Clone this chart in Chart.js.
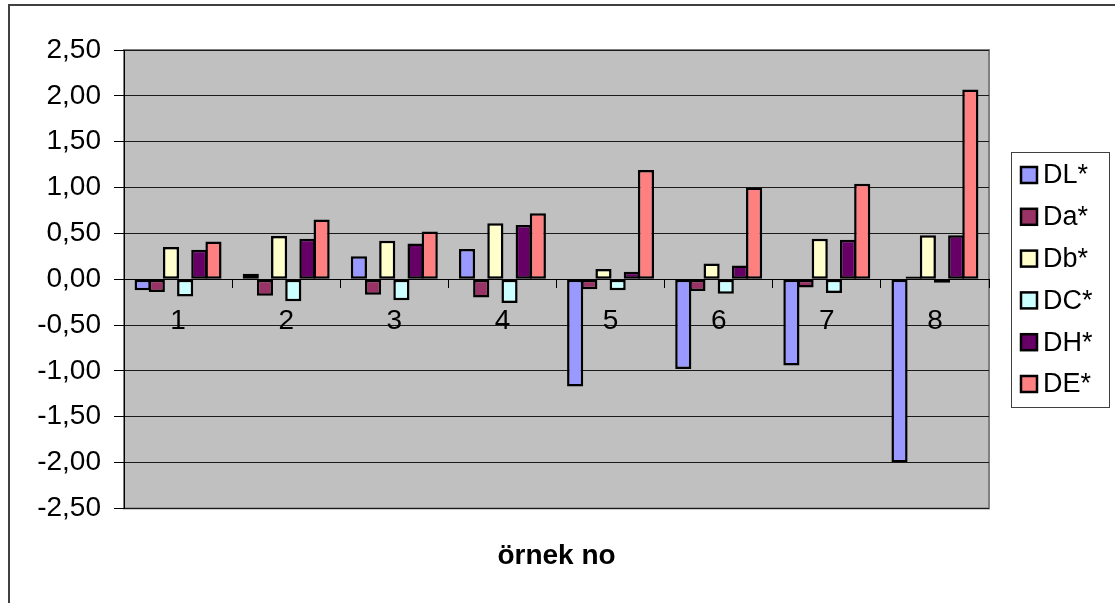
<!DOCTYPE html>
<html>
<head>
<meta charset="utf-8">
<title>örnek no</title>
<script src="https://cdn.jsdelivr.net/npm/chart.js@4.4.1/dist/chart.umd.min.js"></script>
<style>
  html, body { margin: 0; padding: 0; background: #ffffff; }
  #wrap { width: 1115px; height: 603px; position: relative; }
  canvas { display: block; }
</style>
</head>
<body>
<div id="wrap"><canvas id="chart" width="1115" height="603"></canvas></div>
<script>
// Sample numbers (categories) and colour-difference components per sample
const categories = ['1', '2', '3', '4', '5', '6', '7', '8'];
const seriesNames = ['DL*', 'Da*', 'Db*', 'DC*', 'DH*', 'DE*'];
const dLValues = [-0.12, 0.06, 0.25, 0.33, -1.17, -0.98, -0.94, -2.00];
const daValues = [-0.14, -0.18, -0.17, -0.20, -0.11, -0.13, -0.09, 0.03];
const dbValues = [0.35, 0.47, 0.42, 0.61, 0.11, 0.17, 0.44, 0.48];
const dCValues = [-0.19, -0.24, -0.23, -0.26, -0.12, -0.16, -0.15, -0.04];
const dHValues = [0.32, 0.44, 0.39, 0.59, 0.08, 0.15, 0.43, 0.48];
const dEValues = [0.41, 0.65, 0.52, 0.72, 1.19, 1.00, 1.04, 2.07];
const yTickLabels = ['-2,50', '-2,00', '-1,50', '-1,00', '-0,50', '0,00', '0,50', '1,00', '1,50', '2,00', '2,50'];
const xAxisTitle = 'örnek no';

const seriesValues = [dLValues, daValues, dbValues, dCValues, dHValues, dEValues];
const seriesColors = ['#9999FF', '#993366', '#FFFFCC', '#CCFFFF', '#660066', '#FF8080'];

const FONT = "'Liberation Sans', Arial, Helvetica, sans-serif";
const Y_MIN = -2.5, Y_MAX = 2.5, Y_STEP = 0.5;

// Gray plot area with its frame, plus the outer chart border
const plotBackground = {
  id: 'plotBackground',
  beforeDraw(chart) {
    const { ctx, chartArea: a } = chart;
    ctx.save();
    ctx.fillStyle = '#FFFFFF';
    ctx.fillRect(0, 0, chart.width, chart.height);
    ctx.fillStyle = '#C0C0C0';
    ctx.fillRect(a.left, a.top, a.right - a.left, a.bottom - a.top);
    ctx.strokeStyle = '#808080';
    ctx.lineWidth = 2;
    ctx.strokeRect(a.left, a.top, a.right - a.left, a.bottom - a.top);
    ctx.strokeStyle = '#404040';
    ctx.lineWidth = 2;
    ctx.strokeRect(9, 5, chart.width + 20, chart.height + 20);
    ctx.restore();
  }
};

// Boxed legend on the right, listing each dataset with its fill colour
const boxedLegend = {
  id: 'boxedLegend',
  afterDraw(chart) {
    const { ctx } = chart;
    const datasets = chart.data.datasets;
    const boxLeft = 1011, boxTop = 152, boxWidth = 98, boxHeight = 255;
    const firstRow = 175, rowGap = 41.8;
    ctx.save();
    ctx.fillStyle = '#FFFFFF';
    ctx.fillRect(boxLeft, boxTop, boxWidth, boxHeight);
    ctx.strokeStyle = '#404040';
    ctx.lineWidth = 1;
    ctx.strokeRect(boxLeft + 0.5, boxTop + 0.5, boxWidth, boxHeight);
    ctx.font = '27px ' + FONT;
    ctx.textAlign = 'left';
    ctx.textBaseline = 'middle';
    datasets.forEach((ds, i) => {
      const cy = firstRow + i * rowGap;
      ctx.fillStyle = ds.backgroundColor;
      ctx.fillRect(1021, cy - 8, 16, 16);
      ctx.strokeStyle = '#000000';
      ctx.lineWidth = 2.5;
      ctx.strokeRect(1021, cy - 8, 16, 16);
      ctx.fillStyle = '#000000';
      ctx.fillText(ds.label, 1043, cy + 1);
    });
    ctx.restore();
  }
};

const datasets = seriesNames.map((name, i) => ({
  label: name,
  data: seriesValues[i],
  backgroundColor: seriesColors[i],
  borderColor: '#000000',
  borderWidth: 2.5,
  borderSkipped: false
}));

new Chart(document.getElementById('chart').getContext('2d'), {
  type: 'bar',
  data: { labels: categories, datasets },
  options: {
    responsive: false,
    animation: false,
    devicePixelRatio: 1,
    layout: { padding: { left: 0, top: 50, right: 126, bottom: 30 } },
    datasets: {
      bar: { categoryPercentage: 0.786, barPercentage: 1.141 }
    },
    scales: {
      x: {
        position: { y: 0 },
        grid: {
          offset: true,
          drawOnChartArea: false,
          drawTicks: true,
          tickLength: 8,
          color: '#000000',
          lineWidth: 1
        },
        border: { display: true, color: '#000000', width: 1 },
        ticks: {
          color: '#000000',
          font: { family: FONT, size: 28 },
          padding: 17,
          maxRotation: 0,
          autoSkip: false
        }
      },
      y: {
        min: Y_MIN,
        max: Y_MAX,
        afterFit(scale) { scale.width = 124; },
        grid: {
          color: '#1a1a1a',
          lineWidth: 1,
          drawTicks: true,
          tickLength: 10,
          tickColor: '#000000'
        },
        border: { display: true, color: '#000000', width: 1 },
        ticks: {
          stepSize: Y_STEP,
          autoSkip: false,
          color: '#000000',
          font: { family: FONT, size: 28 },
          padding: 13,
          callback: (value) => yTickLabels[Math.round((value - Y_MIN) / Y_STEP)]
        }
      }
    },
    plugins: {
      legend: { display: false },
      tooltip: { enabled: false },
      title: {
        display: true,
        fullSize: false,
        position: 'bottom',
        text: xAxisTitle,
        color: '#000000',
        font: { family: FONT, size: 28, weight: 'bold', lineHeight: 1.2 },
        padding: { top: 31, bottom: 0 }
      }
    }
  },
  plugins: [plotBackground, boxedLegend]
});
</script>
</body>
</html>
